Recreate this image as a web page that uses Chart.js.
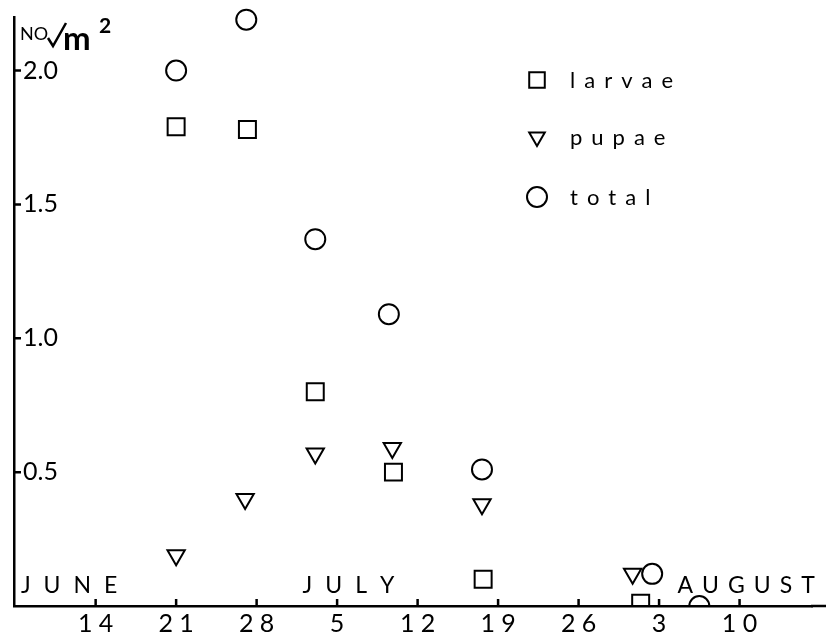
<!DOCTYPE html>
<html>
<head>
<meta charset="utf-8">
<script src="https://cdn.jsdelivr.net/npm/chart.js@4/dist/chart.umd.min.js"></script>
<style>
  body { margin: 0; background: #fff; }
</style>
</head>
<body>
<canvas id="myChart" width="826" height="640"></canvas>
<script>
// days counted from June 14
var tickDays   = [0, 7, 14, 21, 28, 35, 42, 49, 56];
var tickLabels = ['14', '21', '28', '5', '12', '19', '26', '3', '10'];
var yTicks     = [0.5, 1.0, 1.5, 2.0];

var larvaeDays = [7.0, 13.2, 19.1, 25.9, 33.7, 47.4];
var larvae     = [1.79, 1.78, 0.80, 0.50, 0.10, 0.01];

var pupaeDays  = [7.0, 13.0, 19.1, 25.8, 33.6, 46.7];
var pupae      = [0.19, 0.40, 0.57, 0.59, 0.38, 0.12];

var totalDays  = [7.0, 13.1, 19.1, 25.5, 33.6, 48.4, 52.5];
var total      = [2.00, 2.19, 1.37, 1.09, 0.51, 0.12, 0.00];

var monthNames = ['JUNE', 'JULY', 'AUGUST'];
var monthDays  = [-6.5, 18.0, 50.6];
var monthGap   = [13, 13, 9];

var FONT = 'Lato, "DejaVu Sans", sans-serif';

function pts(xs, ys) {
  return xs.map(function (x, i) { return { x: x, y: ys[i] }; });
}

// draw text with wide letter spacing, char by char
function spaced(ctx, text, x, y, gap) {
  for (var i = 0; i < text.length; i++) {
    ctx.fillText(text[i], x, y);
    x += ctx.measureText(text[i]).width + gap;
  }
}

var extras = {
  id: 'extras',
  afterDraw: function (chart) {
    var ctx = chart.ctx;
    var xs = chart.scales.x, ys = chart.scales.y;
    var area = chart.chartArea;
    ctx.save();
    ctx.strokeStyle = '#000';
    ctx.fillStyle = '#000';
    ctx.lineWidth = 2.5;

    // inward tick marks, and the x axis running on to the edge
    ctx.beginPath();
    yTicks.forEach(function (v) {
      var py = ys.getPixelForValue(v);
      ctx.moveTo(area.left, py);
      ctx.lineTo(area.left + 7, py);
    });
    tickDays.forEach(function (d) {
      var px = xs.getPixelForValue(d);
      ctx.moveTo(px, area.bottom);
      ctx.lineTo(px, area.bottom - 7);
    });
    ctx.moveTo(area.right - 1, area.bottom);
    ctx.lineTo(chart.width, area.bottom);
    ctx.stroke();

    // month names above the x axis
    ctx.font = '23px ' + FONT;
    ctx.textBaseline = 'alphabetic';
    monthNames.forEach(function (m, i) {
      spaced(ctx, m, xs.getPixelForValue(monthDays[i]), area.bottom - 13, monthGap[i]);
    });

    // y axis unit
    ctx.font = '18px ' + FONT;
    ctx.fillText('NO', 20, 40);
    ctx.lineWidth = 2.5;
    ctx.beginPath();
    ctx.moveTo(48, 38); ctx.lineTo(53, 46); ctx.lineTo(66, 23);
    ctx.stroke();
    ctx.font = 'bold 33px ' + FONT;
    ctx.fillText('m', 63, 50);
    ctx.font = 'bold 21px ' + FONT;
    ctx.fillText('2', 99, 33);

    // legend
    var items = [
      { ds: 0, y: 80, label: 'larvae' },
      { ds: 1, y: 137, label: 'pupae' },
      { ds: 2, y: 197, label: 'total' }
    ];
    items.forEach(function (it) {
      var d = chart.data.datasets[it.ds];
      ctx.fillStyle = '#fff';
      ctx.strokeStyle = '#000';
      ctx.lineWidth = 2;
      Chart.helpers.drawPoint(ctx, {
        pointStyle: d.pointStyle,
        radius: d.legendRadius,
        rotation: d.pointRotation || 0,
        borderWidth: 2
      }, 537, it.y);
      ctx.fillStyle = '#000';
      ctx.font = '22px ' + FONT;
      ctx.textBaseline = 'middle';
      spaced(ctx, it.label, 570, it.y + 1, 9);
    });
    ctx.restore();
  }
};

var common = {
  showLine: false,
  borderColor: '#000',
  backgroundColor: 'rgba(0,0,0,0)',
  borderWidth: 2,
  clip: { left: false, top: false, right: false, bottom: 0 }
};

var config = {
  type: 'scatter',
  data: {
    datasets: [
      Object.assign({ label: 'larvae', data: pts(larvaeDays, larvae),
        pointStyle: 'rect', pointRadius: 12, legendRadius: 11 }, common),
      Object.assign({ label: 'pupae', data: pts(pupaeDays, pupae),
        pointStyle: 'triangle', pointRotation: 180, pointRadius: 10, legendRadius: 9 }, common),
      Object.assign({ label: 'total', data: pts(totalDays, total),
        pointStyle: 'circle', pointRadius: 10, legendRadius: 10 }, common)
    ]
  },
  options: {
    responsive: false,
    animation: false,
    layout: { padding: { top: 17, left: 0, right: 0, bottom: 0 } },
    plugins: { legend: { display: false }, tooltip: { enabled: false } },
    scales: {
      x: {
        type: 'linear',
        min: -7.1,
        max: 62.3,
        afterBuildTicks: function (s) { s.ticks = tickDays.map(function (v) { return { value: v }; }); },
        afterFit: function (s) { s.height = 34; s.paddingLeft = 0; s.paddingRight = 0; },
        grid: { display: false, drawTicks: false },
        border: { display: true, color: '#000', width: 2.5 },
        ticks: {
          autoSkip: false,
          maxRotation: 0,
          padding: 3,
          color: '#000',
          font: { family: FONT, size: 25 },
          callback: function (v) { return tickLabels[tickDays.indexOf(v)].split('').join(' '); }
        }
      },
      y: {
        min: 0,
        max: 2.2,
        afterBuildTicks: function (s) { s.ticks = yTicks.map(function (v) { return { value: v }; }); },
        afterFit: function (s) { s.width = 13; s.paddingTop = 0; s.paddingBottom = 0; },
        grid: { display: false, drawTicks: false },
        border: { display: true, color: '#000', width: 2.5 },
        ticks: {
          mirror: true,
          padding: 9,
          color: '#000',
          font: { family: FONT, size: 25 },
          callback: function (v) { return v.toFixed(1); }
        }
      }
    }
  },
  plugins: [extras]
};

var myChart = new Chart(document.getElementById('myChart'), config);
</script>
</body>
</html>
